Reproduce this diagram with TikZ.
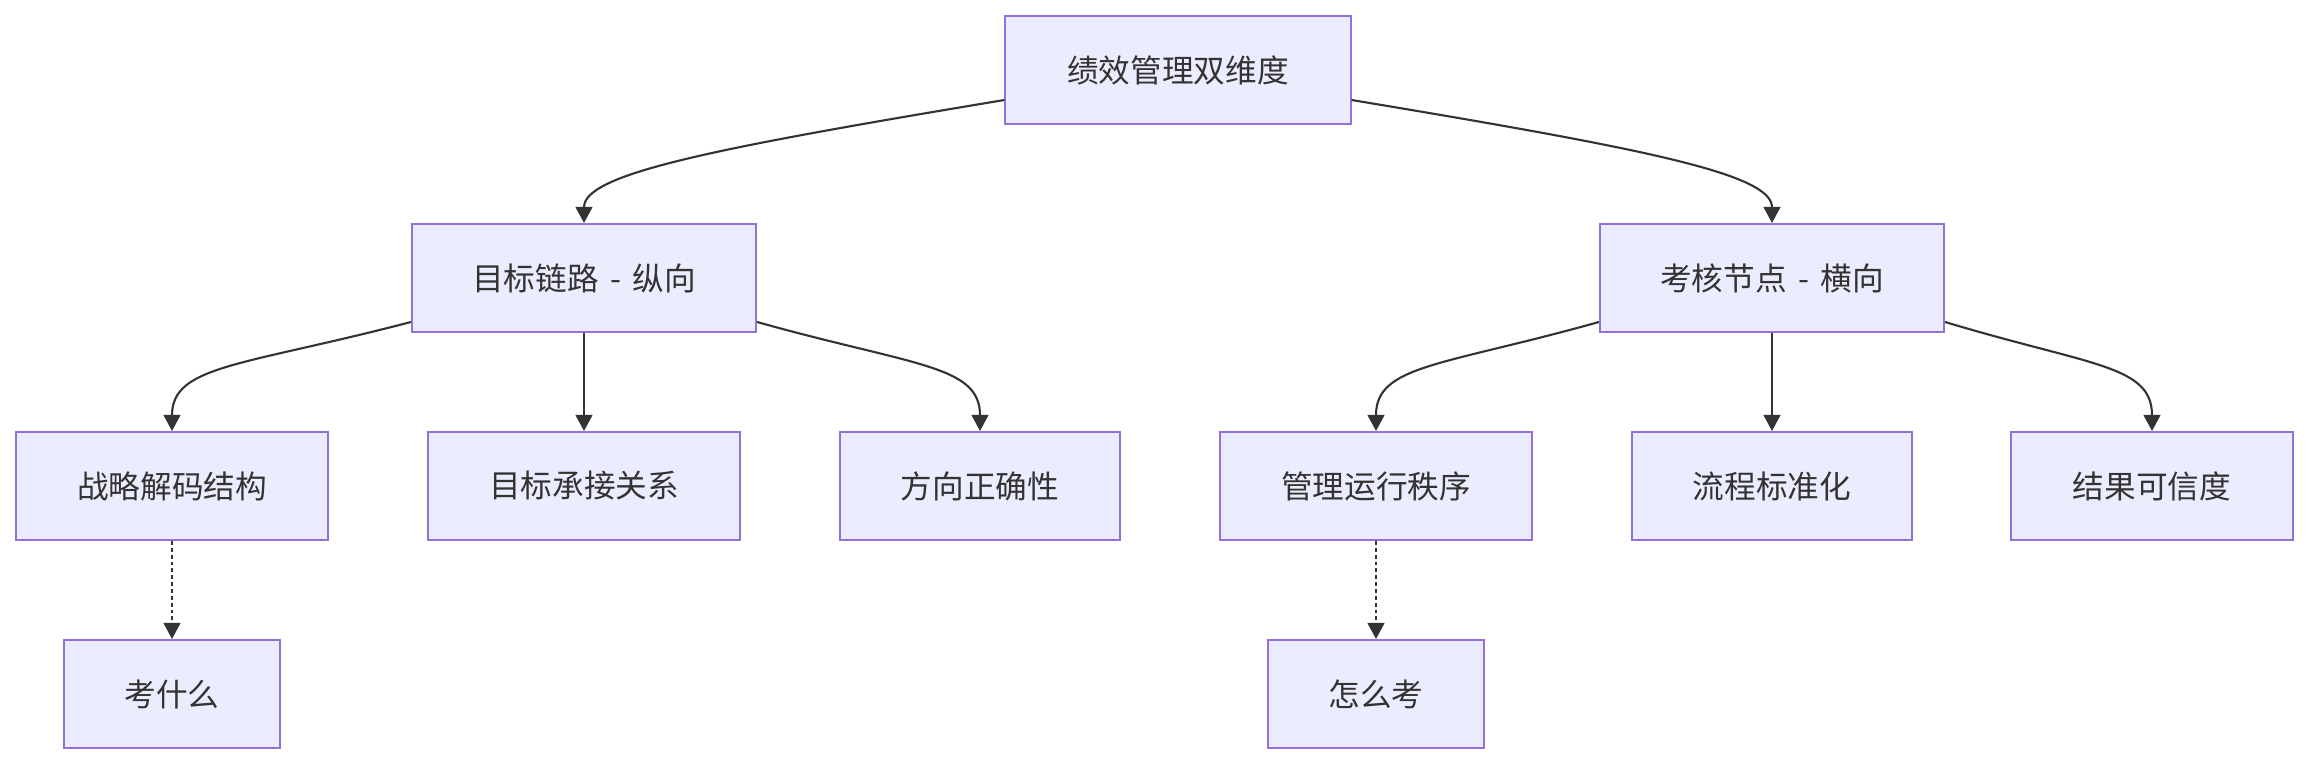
\documentclass[tikz,border=0pt]{standalone}
\usepackage{fontspec}
\newfontfamily\cjk{Noto Sans CJK SC}
\usepackage{xcolor}
\usepackage{tikz}
\usetikzlibrary{arrows.meta,calc}
\definecolor{boxfill}{HTML}{ECECFF}
\definecolor{boxline}{HTML}{9370DB}
\definecolor{ink}{HTML}{333333}
\newcommand{\dash}{\hspace{1.2pt} - \hspace{1.2pt}}
\tikzset{
  box/.style={draw=boxline, line width=0.55pt, fill=boxfill, text=ink,
    minimum height=1.08cm, inner sep=0pt, font=\cjk\fontsize{9}{11}\selectfont},
  arr/.style={draw=ink, line width=0.6pt, -{Triangle[length=4.6pt,width=4.8pt]}},
  dots/.style={arr, dash pattern=on 1.1pt off 0.85pt}
}

\begin{document}
\begin{tikzpicture}[x=0.01cm, y=-0.01cm]
  \useasboundingbox (0,0) rectangle (2308,764);
  \node[box, minimum width=3.45cm] (dual) at (1178,70) {绩效管理双维度};
  \node[box, minimum width=3.44cm] (vert) at (584,278) {目标链路\dash 纵向};
  \node[box, minimum width=3.44cm] (horz) at (1772,278) {考核节点\dash 横向};
  \node[box, minimum width=3.12cm] (decode) at (172,486) {战略解码结构};
  \node[box, minimum width=3.11cm] (inherit) at (584,486) {目标承接关系};
  \node[box, minimum width=2.80cm] (direct) at (980,486) {方向正确性};
  \node[box, minimum width=3.11cm] (order) at (1376,486) {管理运行秩序};
  \node[box, minimum width=2.80cm] (flow) at (1772,486) {流程标准化};
  \node[box, minimum width=2.81cm] (trust) at (2152,486) {结果可信度};
  \node[box, minimum width=2.16cm] (what) at (172,694) {考什么};
  \node[box, minimum width=2.16cm] (how) at (1376,694) {怎么考};

  \draw[arr] ($(dual.west)+(0,30)$) .. controls +(-295,49) and +(0,-49) .. (vert.north);
  \draw[arr] ($(dual.east)+(0,30)$) .. controls +(295,49) and +(0,-49) .. (horz.north);
  \draw[arr] ($(vert.west)+(0,44)$) .. controls +(-168,44) and +(0,-66) .. (decode.north);
  \draw[arr] (vert.south) -- (inherit.north);
  \draw[arr] ($(vert.east)+(0,44)$) .. controls +(157,44) and +(0,-66) .. (direct.north);
  \draw[arr] ($(horz.west)+(0,44)$) .. controls +(-157,44) and +(0,-66) .. (order.north);
  \draw[arr] (horz.south) -- (flow.north);
  \draw[arr] ($(horz.east)+(0,44)$) .. controls +(146,44) and +(0,-66) .. (trust.north);
  \draw[dots] (decode.south) -- (what.north);
  \draw[dots] (order.south) -- (how.north);
\end{tikzpicture}
\end{document}
